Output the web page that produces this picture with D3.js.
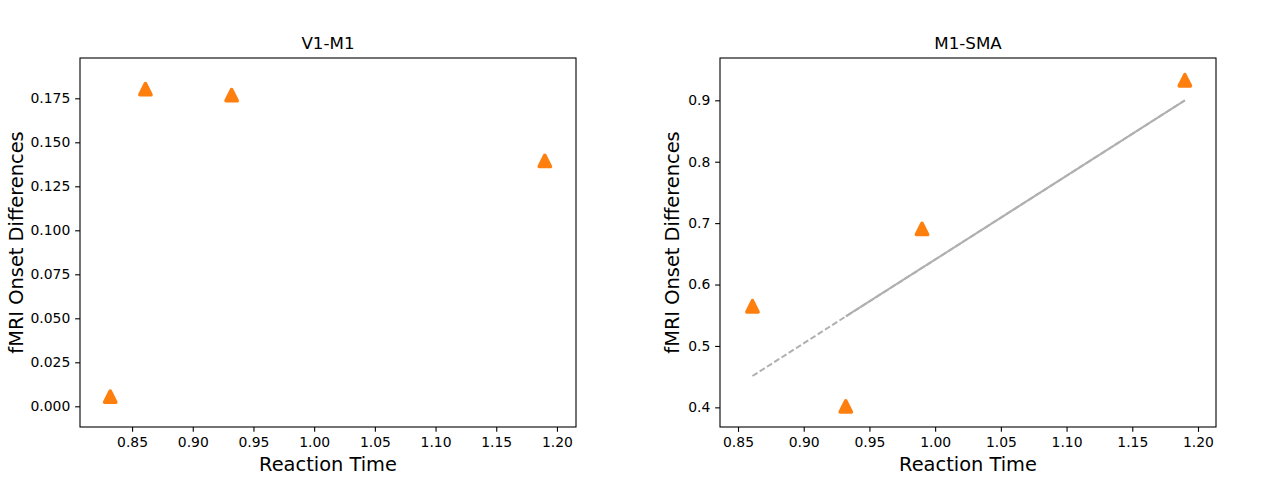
<!DOCTYPE html>
<html><head><meta charset="utf-8">
<script src="https://cdn.jsdelivr.net/npm/d3@7"></script>
<style>body{margin:0;background:#fff}svg{display:block}text{font-family:"DejaVu Sans",sans-serif}</style>
</head><body><svg id="c" width="1280" height="480"></svg>
<script>
// Panel titles
const titles = ["V1-M1", "M1-SMA"];
// V1-M1 data
const rtV1M1 = [0.832, 0.861, 0.932, 1.19];
const onsetV1M1 = [0.0055, 0.1802, 0.1768, 0.1394];
// M1-SMA data
const rtM1SMA = [0.861, 0.932, 0.99, 1.19];
const onsetM1SMA = [0.5645, 0.4016, 0.6905, 0.9326];
// regression fit for M1-SMA
const fitX = [0.861, 0.932, 0.99, 1.19];
const fitY = [0.451, 0.548, 0.627, 0.900];
// tick values
const xTicks = [0.85, 0.90, 0.95, 1.00, 1.05, 1.10, 1.15, 1.20];
const yTicksLeft = [0, 0.025, 0.05, 0.075, 0.1, 0.125, 0.15, 0.175];
const yTicksRight = [0.4, 0.5, 0.6, 0.7, 0.8, 0.9];

(function(){
const svg = d3.select("#c");
const yTop = 58, yBot = 427;
const tk = 4.86;

const panels = [
  {x0: 80, x1: 576, xd: [0.8071, 1.2157], yd: [-0.01176, 0.1979], xs: rtV1M1, ys: onsetV1M1, yt: yTicksLeft, yf: d3.format(".3f"), ylabX: 23, title: titles[0]},
  {x0: 720, x1: 1216, xd: [0.8363, 1.2137], yd: [0.368, 0.9689], xs: rtM1SMA, ys: onsetM1SMA, yt: yTicksRight, yf: d3.format(".1f"), ylabX: 679, title: titles[1], fit: true}
];

const tri = d3.symbol().type({draw(ctx, size){ const s = size; ctx.moveTo(0,-s); ctx.lineTo(s,s); ctx.lineTo(-s,s); ctx.closePath(); }}).size(5.6);

panels.forEach(p => {
  const x = d3.scaleLinear().domain(p.xd).range([p.x0, p.x1]);
  const y = d3.scaleLinear().domain(p.yd).range([yBot, yTop]);
  const g = svg.append("g");

  if (p.fit) {
    const line = d3.line().x(d => x(d[0])).y(d => y(d[1]));
    const pts = fitX.map((v, i) => [v, fitY[i]]);
    g.append("path").attr("d", line(pts)).attr("fill", "none")
      .attr("stroke", "#b0b0b0").attr("stroke-width", 2).attr("stroke-dasharray", "6,2.6");
    g.append("path").attr("d", line(pts.slice(1))).attr("fill", "none")
      .attr("stroke", "#b0b0b0").attr("stroke-width", 2);
  }

  g.selectAll("path.m").data(p.xs.map((v, i) => [v, p.ys[i]])).join("path")
    .attr("class", "m")
    .attr("d", tri())
    .attr("transform", d => `translate(${x(d[0])},${y(d[1])})`)
    .attr("fill", "#ff7f0e").attr("stroke", "#ff7f0e")
    .attr("stroke-width", 3.6).attr("stroke-linejoin", "round");

  const xa = g.append("g").attr("transform", `translate(0,${yBot})`)
    .call(d3.axisBottom(x).tickValues(xTicks).tickFormat(d3.format(".2f")).tickSize(tk).tickPadding(tk).tickSizeOuter(0));
  const ya = g.append("g").attr("transform", `translate(${p.x0},0)`)
    .call(d3.axisLeft(y).tickValues(p.yt).tickFormat(p.yf).tickSize(tk).tickPadding(tk).tickSizeOuter(0));
  [xa, ya].forEach(a => {
    a.select(".domain").remove();
    a.selectAll("line").attr("stroke", "#000").attr("stroke-width", 1.1);
    a.selectAll("text").attr("font-size", "13.9px").attr("fill", "#000").attr("font-family", "DejaVu Sans");
  });

  g.append("rect").attr("x", p.x0).attr("y", yTop).attr("width", p.x1 - p.x0).attr("height", yBot - yTop)
    .attr("fill", "none").attr("stroke", "#000").attr("stroke-width", 1.1);

  g.append("text").attr("x", (p.x0 + p.x1) / 2).attr("y", 49).attr("text-anchor", "middle")
    .attr("font-size", "16.7px").text(p.title);
  g.append("text").attr("x", (p.x0 + p.x1) / 2).attr("y", 471).attr("text-anchor", "middle")
    .attr("font-size", "19.4px").text("Reaction Time");
  g.append("text").attr("transform", `translate(${p.ylabX},${(yTop + yBot) / 2}) rotate(-90)`)
    .attr("text-anchor", "middle").attr("font-size", "19.4px").text("fMRI Onset Differences");
});
})();
</script></body></html>
